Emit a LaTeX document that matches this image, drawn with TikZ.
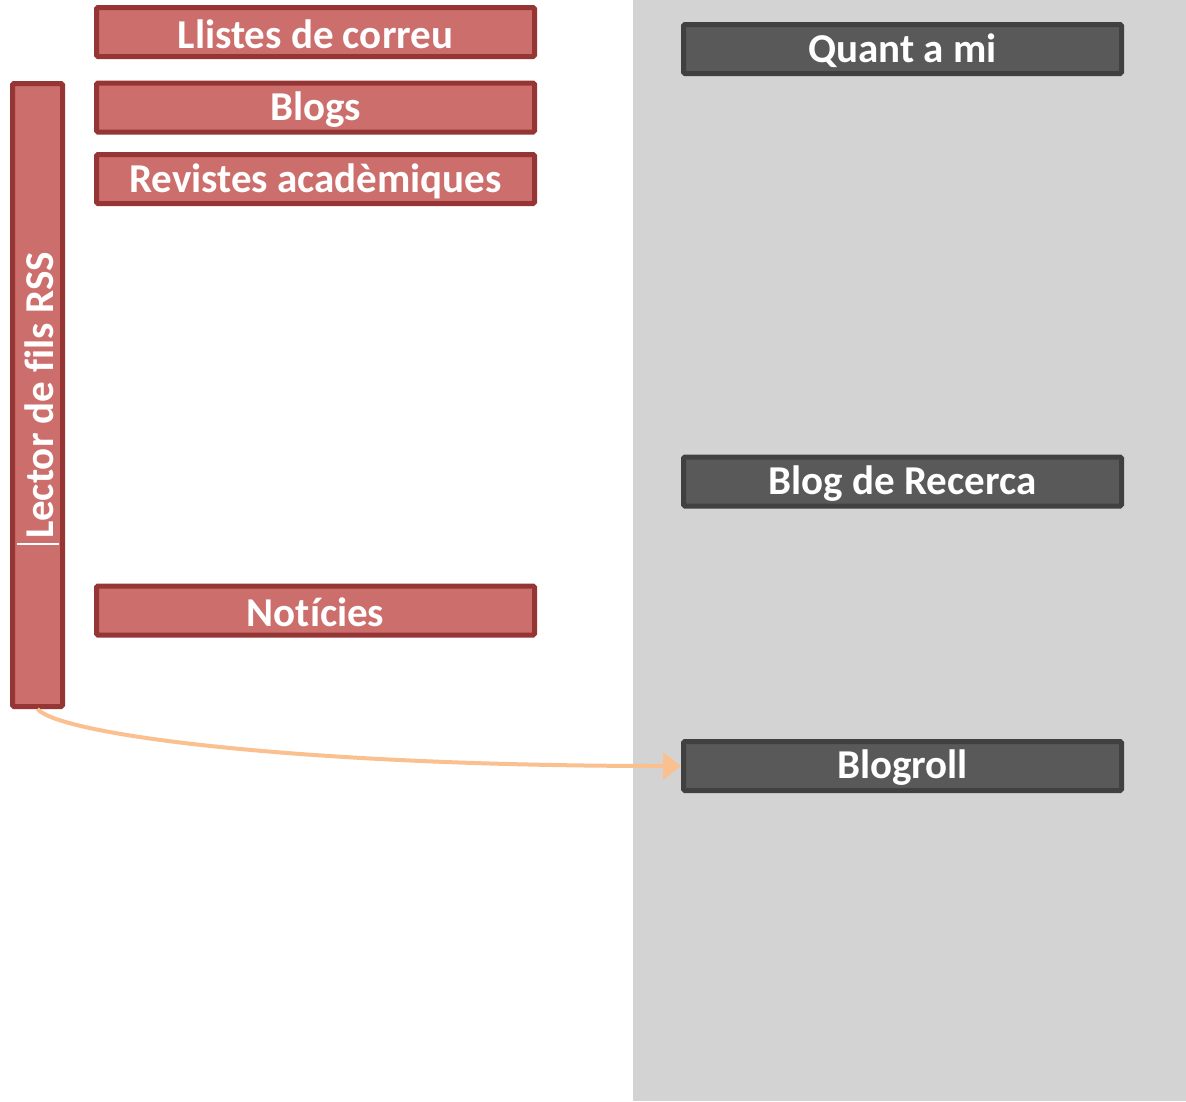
\documentclass[tikz,border=0pt]{standalone}
\usepackage{fontspec}
\setmainfont{Carlito}[Ligatures=NoCommon]
\usetikzlibrary{arrows.meta}
\definecolor{redfill}{HTML}{CC6E6B}
\definecolor{redline}{HTML}{953634}
\definecolor{darkfill}{HTML}{595959}
\definecolor{darkline}{HTML}{404040}
\definecolor{panelgray}{HTML}{D3D3D3}
\definecolor{arrowor}{HTML}{FAC08F}
\tikzset{
  boxbase/.style={rectangle, rounded corners=1.5pt, line width=5pt, text=white,
    font=\fontsize{41}{48}\selectfont\bfseries, inner sep=0pt, align=center},
  redbox/.style={boxbase, fill=redfill, draw=redline, minimum width=438pt, minimum height=49pt},
  darkbox/.style={boxbase, fill=darkfill, draw=darkline, minimum width=438pt, minimum height=49pt},
  barbox/.style={boxbase, fill=redfill, draw=redline, minimum width=50pt, minimum height=623pt},
  lbl/.style={text=white, font=\fontsize{41}{48}\selectfont\bfseries, inner sep=0pt},
  feedarrow/.style={draw=arrowor, line width=4pt, -{Triangle[length=18pt,width=27pt]}}
}
\begin{document}
\begin{tikzpicture}[x=1pt,y=-1pt]
\useasboundingbox (0,0) rectangle (1186,1101);
\fill[white] (0,0) rectangle (1186,1101);
\fill[panelgray] (633,0) rectangle (1186,1101);

\node[redbox] (llistes) at (315.5,32) {};
\node[lbl] at ([yshift=-2pt]llistes.center) {Llistes de correu};
\node[redbox] (blogs) at (315.5,107.5) {};
\node[lbl] at ([yshift=-2pt]blogs.center) {Blogs};
\node[redbox] (revistes) at (315.5,179) {};
\node[lbl] at ([yshift=-2pt]revistes.center) {Revistes acadèmiques};
\node[redbox] (noticies) at (315.5,610.5) {};
\node[lbl] at ([yshift=-2pt]noticies.center) {Notícies};

\node[barbox] (lector) at (37.5,395) {};
\node[lbl, rotate=90] (lectortext) at (39,395.5) {Lector de fils RSS};
\draw[white, line width=1.3pt] (17,544) -- (59,544);

\node[darkbox] (quant) at (902.5,49) {};
\node[lbl] at ([yshift=-2pt]quant.center) {Quant a mi};
\node[darkbox] (recerca) at (902.5,481.5) {};
\node[lbl] at ([yshift=-2pt]recerca.center) {Blog de Recerca};
\node[darkbox] (blogroll) at (902.5,766) {};
\node[lbl] at ([yshift=-2pt]blogroll.center) {Blogroll};

\draw[feedarrow] (lector.south) .. controls (60,735) and (300,766) .. (blogroll.west);
\end{tikzpicture}
\end{document}
